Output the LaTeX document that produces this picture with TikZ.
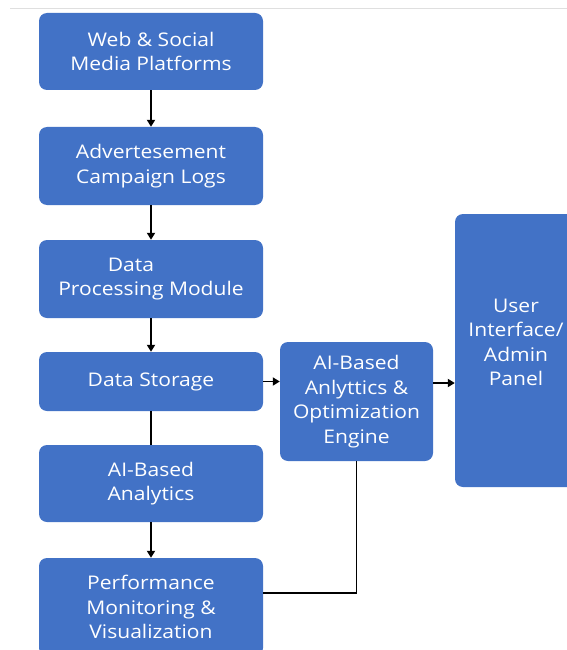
\documentclass[tikz,border=0pt]{standalone}
\usepackage{fontspec}
\setsansfont[FakeStretch=1.12]{Open Sans}
\usetikzlibrary{positioning,arrows.meta,calc}
\definecolor{boxblue}{RGB}{66,114,198}
\tikzset{
block/.style={
  draw=none, fill=boxblue, rounded corners=8pt,
  text=white, align=center, inner sep=0pt,
  font=\sffamily\fontsize{18.8}{24.5}\selectfont
},
leftblock/.style={block, minimum width=224pt},
flow/.style={line width=1.8pt, -{Triangle[length=7pt,width=8pt]}},
plain/.style={line width=1.8pt}
}

\begin{document}
\begin{tikzpicture}[x=1pt,y=-1pt]
    \useasboundingbox (0,0) rectangle (567,650);
    \clip (0,0) rectangle (567,650);
    % screenshot edge
    \draw[gray!25, line width=0.8pt] (10,8) -- (567,8);

    % left column
    \node[leftblock, minimum height=77pt] (web) at (151,51.5) {Web \& Social\\Media Platforms};
    \node[leftblock, minimum height=78pt] (ads) at (151,166) {Advertesement\\Campaign Logs};
    \node[leftblock, minimum height=78pt] (proc) at (151,279) {Data\hspace*{40pt}\\Processing Module};
    \node[leftblock, minimum height=59pt] (store) at (151,381.5) {Data Storage};
    \node[leftblock, minimum height=77pt] (ana) at (151,483.5) {AI-Based\\Analytics};
    \node[leftblock, minimum height=98pt] (perf) at (151,607) {Performance\\Monitoring \&\\Visualization};

    % middle and right
    \node[block, minimum width=153pt, minimum height=119pt] (engine) at (356.5,401.5) {AI-Based\\Anlyttics \&\\Optimization\\Engine};
    \node[block, minimum width=122pt, minimum height=273pt] (ui) at (516,350.5) {};
    \node[block, fill=none] (uitext) at ($(ui.center)+(0,-8)$) {User\\Interface/\\Admin\\Panel};

    % connectors
    \draw[flow] (web) -- (ads);
    \draw[flow] (ads) -- (proc);
    \draw[flow] (proc) -- (store);
    \draw[plain] (store) -- (ana);
    \draw[flow] (ana) -- (perf);
    \draw[flow] (store.east) -- (engine.west |- store.east);
    \draw[flow] ([yshift=18.5pt]engine.east) -- ([yshift=18.5pt]engine.east -| ui.west);
    \draw[plain] ([yshift=14pt]perf.east) -| (engine.south);
\end{tikzpicture}
\end{document}
